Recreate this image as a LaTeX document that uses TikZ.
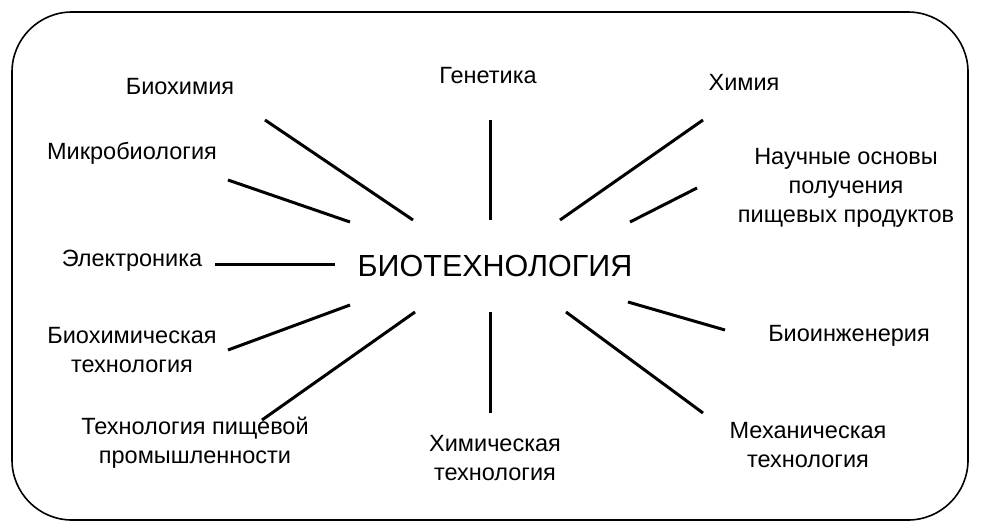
\documentclass[tikz,border=0pt]{standalone}
\usepackage{fontspec}
\setmainfont{Liberation Sans}
\begin{document}
\begin{tikzpicture}[x=1pt,y=-1pt]
	\tikzstyle{every node}=[align=center, font=\fontsize{23.5}{29}\selectfont]
	\tikzstyle{ray}=[line width=3pt]
	\useasboundingbox (0,0) rectangle (982,530);
	\draw[line width=1.6pt, rounded corners=60pt] (12,12) rectangle (968,520);
	\path (495,266) node[font=\fontsize{30.5}{36}\selectfont] (bt) {БИОТЕХНОЛОГИЯ}
	      (180,87) node (bch) {Биохимия}
	      (488,76) node (gen) {Генетика}
	      (744,82) node (chm) {Химия}
	      (132,153) node (mic) {Микробиология}
	      (846,188) node (nau) {Научные основы\\получения\\пищевых продуктов}
	      (132,261) node (ele) {Электроника}
	      (849,336) node (bie) {Биоинженерия}
	      (132,350) node (bct) {Биохимическая\\технология}
	      (195,443) node (tpp) {Технология пищевой\\промышленности}
	      (495,458) node (cht) {Химическая\\технология}
	      (808,445) node (mct) {Механическая\\технология};
	\path (265,120) coordinate (a1) (413,220) coordinate (b1)
	      (490,120) coordinate (a2) (490,220) coordinate (b2)
	      (703,120) coordinate (a3) (560,220) coordinate (b3)
	      (228,180) coordinate (a4) (350,222) coordinate (b4)
	      (697,188) coordinate (a5) (630,222) coordinate (b5)
	      (215,264) coordinate (a6) (335,264) coordinate (b6)
	      (725,330) coordinate (a7) (628,302) coordinate (b7)
	      (228,350) coordinate (a8) (350,305) coordinate (b8)
	      (262,420) coordinate (a9) (415,312) coordinate (b9)
	      (490,413) coordinate (a10) (490,312) coordinate (b10)
	      (703,413) coordinate (a11) (566,312) coordinate (b11);
	\foreach \i in {1,...,11}
		\draw[ray] (a\i) -- (b\i);
\end{tikzpicture}
\end{document}
